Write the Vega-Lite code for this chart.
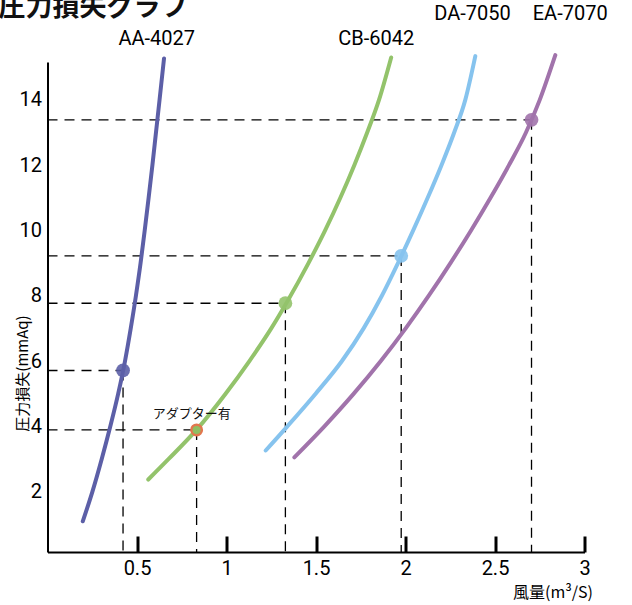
{
  "$schema": "https://vega.github.io/schema/vega-lite/v6.json",
  "autosize": "none",
  "padding": {"left": 47.5, "top": 62, "right": 48, "bottom": 53},
  "width": 537,
  "height": 490,
  "background": "white",
  "view": {"stroke": null},
  "title": {
    "text": "圧力損失グラフ",
    "anchor": "start",
    "frame": "group",
    "font": "Noto Sans CJK JP",
    "fontSize": 27,
    "fontWeight": "bold",
    "color": "#111",
    "dx": -49,
    "dy": 22
  },
  "datasets": {
    "curves": [
      {"series": "AA-4027", "x": 0.197, "y": 1.09},
      {"series": "AA-4027", "x": 0.251, "y": 2},
      {"series": "AA-4027", "x": 0.303, "y": 3},
      {"series": "AA-4027", "x": 0.351, "y": 4},
      {"series": "AA-4027", "x": 0.395, "y": 5},
      {"series": "AA-4027", "x": 0.433, "y": 6},
      {"series": "AA-4027", "x": 0.465, "y": 7},
      {"series": "AA-4027", "x": 0.494, "y": 8},
      {"series": "AA-4027", "x": 0.52, "y": 9},
      {"series": "AA-4027", "x": 0.543, "y": 10},
      {"series": "AA-4027", "x": 0.565, "y": 11},
      {"series": "AA-4027", "x": 0.586, "y": 12},
      {"series": "AA-4027", "x": 0.606, "y": 13},
      {"series": "AA-4027", "x": 0.626, "y": 14},
      {"series": "AA-4027", "x": 0.651, "y": 15.27},
      {"series": "CB-6042", "x": 0.563, "y": 2.37},
      {"series": "CB-6042", "x": 0.677, "y": 3},
      {"series": "CB-6042", "x": 0.832, "y": 3.89},
      {"series": "CB-6042", "x": 0.995, "y": 5},
      {"series": "CB-6042", "x": 1.128, "y": 6},
      {"series": "CB-6042", "x": 1.25, "y": 7},
      {"series": "CB-6042", "x": 1.334, "y": 7.77},
      {"series": "CB-6042", "x": 1.458, "y": 9},
      {"series": "CB-6042", "x": 1.551, "y": 10},
      {"series": "CB-6042", "x": 1.636, "y": 11},
      {"series": "CB-6042", "x": 1.714, "y": 12},
      {"series": "CB-6042", "x": 1.786, "y": 13},
      {"series": "CB-6042", "x": 1.852, "y": 14},
      {"series": "CB-6042", "x": 1.92, "y": 15.3},
      {"series": "DA-7050", "x": 1.219, "y": 3.26},
      {"series": "DA-7050", "x": 1.34, "y": 4},
      {"series": "DA-7050", "x": 1.498, "y": 5},
      {"series": "DA-7050", "x": 1.645, "y": 6},
      {"series": "DA-7050", "x": 1.766, "y": 7},
      {"series": "DA-7050", "x": 1.868, "y": 8},
      {"series": "DA-7050", "x": 1.958, "y": 9},
      {"series": "DA-7050", "x": 2.043, "y": 10},
      {"series": "DA-7050", "x": 2.124, "y": 11},
      {"series": "DA-7050", "x": 2.201, "y": 12},
      {"series": "DA-7050", "x": 2.272, "y": 13},
      {"series": "DA-7050", "x": 2.334, "y": 14},
      {"series": "DA-7050", "x": 2.39, "y": 15.34},
      {"series": "EA-7070", "x": 1.379, "y": 3.05},
      {"series": "EA-7070", "x": 1.547, "y": 4},
      {"series": "EA-7070", "x": 1.711, "y": 5},
      {"series": "EA-7070", "x": 1.862, "y": 6},
      {"series": "EA-7070", "x": 2.001, "y": 7},
      {"series": "EA-7070", "x": 2.13, "y": 8},
      {"series": "EA-7070", "x": 2.251, "y": 9},
      {"series": "EA-7070", "x": 2.366, "y": 10},
      {"series": "EA-7070", "x": 2.475, "y": 11},
      {"series": "EA-7070", "x": 2.578, "y": 12},
      {"series": "EA-7070", "x": 2.673, "y": 13},
      {"series": "EA-7070", "x": 2.75, "y": 14},
      {"series": "EA-7070", "x": 2.837, "y": 15.37}
    ],
    "points": [
      {"series": "AA-4027", "x": 0.422, "y": 5.71},
      {"series": "CB-6042", "x": 1.329, "y": 7.77},
      {"series": "DA-7050", "x": 1.976, "y": 9.22},
      {"series": "EA-7070", "x": 2.704, "y": 13.39},
      {"series": "アダプター有", "x": 0.833, "y": 3.89}
    ],
    "labels": [
      {"text": "AA-4027", "x": 0.61, "y": 15.86, "kind": "series"},
      {"text": "CB-6042", "x": 1.837, "y": 15.86, "kind": "series"},
      {"text": "DA-7050", "x": 2.374, "y": 16.63, "kind": "series"},
      {"text": "EA-7070", "x": 2.92, "y": 16.63, "kind": "series"},
      {"text": "アダプター有", "x": 0.806, "y": 4.39, "kind": "note"}
    ]
  },
  "encoding": {
    "x": {
      "field": "x", "type": "quantitative",
      "scale": {"domain": [0, 3], "nice": false, "zero": false},
      "axis": {
        "values": [0.5, 1, 1.5, 2, 2.5, 3],
        "format": "~g",
        "grid": false,
        "tickSize": -16, "tickWidth": 3, "tickColor": "#000",
        "domainColor": "#000", "domainWidth": 2,
        "labelPadding": 22, "labelFlush": false,
        "labelFont": "Roboto",
        "labelFontSize": 20, "labelColor": "#000",
        "title": "風量(m³/S)",
        "titleFont": "Noto Sans CJK JP", "titleFontSize": 16, "titleFontWeight": "normal",
        "titleColor": "#000",
        "titleX": 505, "titleY": 40, "titleAlign": "center", "titleBaseline": "middle"
      }
    },
    "y": {
      "field": "y", "type": "quantitative",
      "scale": {"domain": [0.15, 15.16], "nice": false, "zero": false},
      "axis": {
        "values": [2, 4, 6, 8, 10, 12, 14],
        "grid": false, "ticks": false,
        "domainColor": "#000", "domainWidth": 2,
        "labelPadding": 6,
        "labelFont": "Roboto",
        "labelFontSize": 20, "labelColor": "#000",
        "title": "圧力損失(mmAq)",
        "titleFont": "Noto Sans CJK JP", "titleFontSize": 15, "titleFontWeight": "normal",
        "titleColor": "#000",
        "titleAngle": -90, "titleX": -25, "titleY": 311,
        "titleAlign": "center", "titleBaseline": "middle"
      }
    }
  },
  "layer": [
    {
      "data": {"name": "points"},
      "mark": {"type": "rule", "color": "#000", "strokeWidth": 1.3, "strokeDash": [10, 7]},
      "encoding": {
        "x": {"datum": 0},
        "x2": {"field": "x"},
        "y": {"field": "y", "type": "quantitative"}
      }
    },
    {
      "data": {"name": "points"},
      "mark": {"type": "rule", "color": "#000", "strokeWidth": 1.3, "strokeDash": [10, 7]},
      "encoding": {
        "x": {"field": "x", "type": "quantitative"},
        "y": {"field": "y", "type": "quantitative"},
        "y2": {"datum": 0.15}
      }
    },
    {
      "data": {"name": "curves"},
      "mark": {"type": "line", "strokeWidth": 4, "interpolate": "monotone", "strokeCap": "round"},
      "encoding": {
        "color": {
          "field": "series", "type": "nominal",
          "scale": {
            "domain": ["AA-4027", "CB-6042", "DA-7050", "EA-7070", "アダプター有"],
            "range": ["#5c5fa7", "#93c36b", "#86c3ee", "#a173ab", "#8fbf63"]
          },
          "legend": null
        }
      }
    },
    {
      "data": {"name": "points"},
      "transform": [{"filter": "datum.series !== 'アダプター有'"}],
      "mark": {"type": "circle", "size": 190, "opacity": 0.9},
      "encoding": {
        "color": {"field": "series", "type": "nominal", "legend": null}
      }
    },
    {
      "data": {"name": "points"},
      "transform": [{"filter": "datum.series === 'アダプター有'"}],
      "mark": {"type": "circle", "size": 110, "opacity": 1, "fill": "#8fbf63", "stroke": "#e2774e", "strokeWidth": 2.5}
    },
    {
      "data": {"name": "labels"},
      "transform": [{"filter": "datum.kind === 'series'"}],
      "mark": {"type": "text", "font": "Roboto", "fontSize": 20, "color": "#000", "align": "center", "baseline": "middle"},
      "encoding": {"text": {"field": "text"}}
    },
    {
      "data": {"name": "labels"},
      "transform": [{"filter": "datum.kind === 'note'"}],
      "mark": {"type": "text", "font": "Noto Sans CJK JP", "fontSize": 13, "color": "#111", "align": "center", "baseline": "middle"},
      "encoding": {"text": {"field": "text"}}
    }
  ]
}
